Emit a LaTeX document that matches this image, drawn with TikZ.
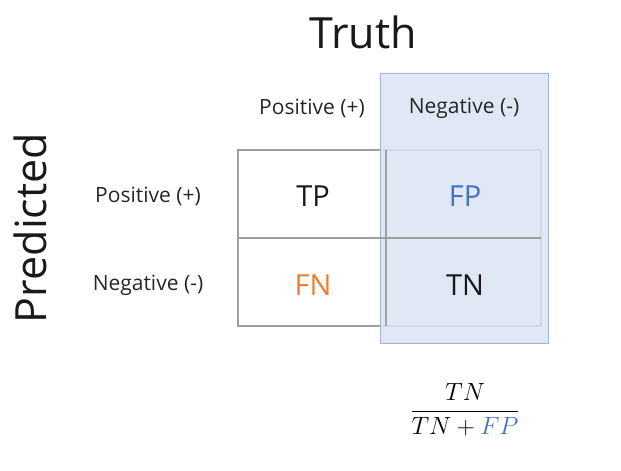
\documentclass[tikz,border=0pt]{standalone}
\usepackage{amsmath}
\usepackage{fontspec}
\setmainfont{Open Sans}
\definecolor{shadebg}{RGB}{218,227,243}
\definecolor{shadeb}{RGB}{160,180,215}
\definecolor{fpblue}{RGB}{68,114,196}
\definecolor{fnorange}{RGB}{237,125,49}
\definecolor{gridg}{RGB}{160,160,160}
\tikzset{
 hdr/.style={font=\fontsize{21}{24}\selectfont, text=black!85},
 cell/.style={font=\fontsize{29}{32}\selectfont, text=black!90},
 big/.style={font=\fontsize{43}{46}\selectfont, text=black!90},
 gridline/.style={draw=gridg, line width=1.2pt}
}
\begin{document}
\begin{tikzpicture}[x=1pt,y=-1pt]
\useasboundingbox (0,0) rectangle (621,471);
\node[big] (truth) at (363,32) {Truth};
\node[big, rotate=90] (pred) at (30,228) {Predicted};
\draw[gridline] (238,150) rectangle (541,326);
\fill[shadebg, fill opacity=0.85] (380,73) rectangle (548,343);
\draw[shadeb, line width=0.6pt] (380,73) rectangle (548,343);
\draw[gridline] (386,150) -- (386,326);
\draw[gridline] (238,238) -- (541,238);
\node[hdr] (cp) at (312,108) {Positive (+)};
\node[hdr] (cn) at (464,108) {Negative (-)};
\node[hdr] (rp) at (148,196) {Positive (+)};
\node[hdr] (rn) at (148,285) {Negative (-)};
\node[cell] (tp) at (313,196) {TP};
\node[cell, text=fpblue] (fp) at (465,196) {FP};
\node[cell, text=fnorange] (fn) at (313,285) {FN};
\node[cell] (tn) at (465,285) {TN};
\node[font=\fontsize{27}{32}\selectfont] (frac) at (465,410) {$\dfrac{TN}{TN+\textcolor{fpblue}{FP}}$};
\end{tikzpicture}
\end{document}
